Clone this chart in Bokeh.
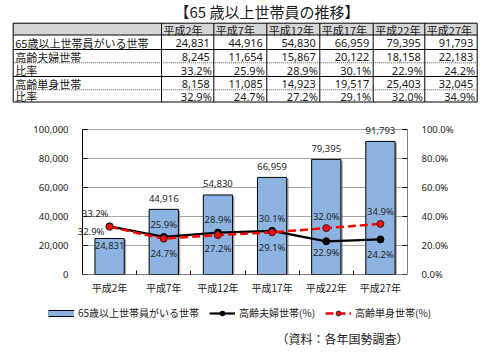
import numpy as np
from bokeh.plotting import figure
from bokeh.models import (Range1d, LinearAxis, FixedTicker,
                          Legend, LegendItem, NumeralTickFormatter, PrintfTickFormatter,
                          CustomJSTickFormatter)
from bokeh.embed import file_html
from bokeh.resources import INLINE
from bokeh.core.properties import value

# ---------------- data ----------------
chart_title = "【65 歳以上世帯員の推移】"
years = ["平成2年", "平成7年", "平成12年", "平成17年", "平成22年", "平成27年"]
households = [24831, 44916, 54830, 66959, 79395, 91793]
couple = [8245, 11654, 15867, 20122, 18158, 22183]
couple_ratio = [33.2, 25.9, 28.9, 30.1, 22.9, 24.2]
single = [8158, 11085, 14923, 19517, 25403, 32045]
single_ratio = [32.9, 24.7, 27.2, 29.1, 32.0, 34.9]
row_labels = ["65歳以上世帯員がいる世帯", "高齢夫婦世帯", "比率", "高齢単身世帯", "比率"]
legend_labels = ["65歳以上世帯員がいる世帯", "高齢夫婦世帯(%)", "高齢単身世帯(%)"]
source_note = "（資料：各年国勢調査）"
left_ticks = [0, 20000, 40000, 60000, 80000, 100000]
right_ticks = [0, 20, 40, 60, 80, 100]

# ---------------- styles / layout ----------------
JP = "Noto Sans CJK JP"
NUM = "Noto Sans"
TXT = "#1a1a1a"
BAR = "#8db3e2"
RED = "#ff0000"
col_edges = [12.7, 161, 213.3, 266.3, 319.3, 372.7, 424.3, 476.7]
row_edges = [22.7, 34.5, 49, 62.3, 76, 89.3, 101.5]
dotted_rows = [3, 5]

# ================= table figure =================
tf = figure(width=492, height=108, x_range=Range1d(0, 492), y_range=Range1d(108, 0),
            output_backend="svg", toolbar_location=None, min_border=0,
            x_axis_location=None, y_axis_location=None)
tf.grid.visible = False
tf.outline_line_color = None

tf.quad(left=[col_edges[0]], right=[col_edges[-1]], top=[row_edges[0]], bottom=[row_edges[1]],
        fill_color="#d6d6d6", line_color=None)
solid_y = [y for i, y in enumerate(row_edges) if i not in dotted_rows]
dot_y = [y for i, y in enumerate(row_edges) if i in dotted_rows]
tf.segment(x0=[col_edges[0]] * len(solid_y), x1=[col_edges[-1]] * len(solid_y),
           y0=solid_y, y1=solid_y, line_color="black", line_width=1)
tf.segment(x0=[col_edges[0]] * len(dot_y), x1=[col_edges[-1]] * len(dot_y),
           y0=dot_y, y1=dot_y, line_color="#555555", line_width=1, line_dash="1 1")
tf.segment(x0=col_edges, x1=col_edges, y0=[row_edges[0]] * len(col_edges),
           y1=[row_edges[-1]] * len(col_edges), line_color="black", line_width=1)

tf.text(x=[266.5], y=[11], text=[chart_title], text_font=value(JP), text_font_size="15px",
        text_align="center", text_baseline="middle", text_color=TXT)

row_mid = [(row_edges[i] + row_edges[i + 1]) / 2 for i in range(len(row_edges) - 1)]
tf.text(x=[col_edges[i + 1] + 2 for i in range(len(years))], y=[row_mid[0] + 0.5] * len(years),
        text=years, text_font=value(JP), text_font_size="11px", text_align="left",
        text_baseline="middle", text_color=TXT)
tf.text(x=[col_edges[0] + 2] * len(row_labels), y=[m + 0.5 for m in row_mid[1:]], text=row_labels,
        text_font=value(JP), text_font_size="11px", text_align="left",
        text_baseline="middle", text_color=TXT)
rows = [
    [f"{v:,}" for v in households],
    [f"{v:,}" for v in couple],
    [f"{v:.1f}%" for v in couple_ratio],
    [f"{v:,}" for v in single],
    [f"{v:.1f}%" for v in single_ratio],
]
vx, vy, vt = [], [], []
for r, vals in enumerate(rows):
    for c, t in enumerate(vals):
        vx.append(col_edges[c + 2] - (4 if not t.endswith("%") else 2))
        vy.append(row_mid[r + 1] + 0.5)
        vt.append(t)
tf.text(x=vx, y=vy, text=vt, text_font=value(NUM), text_font_size="11px", text_align="right",
        text_baseline="middle", text_color=TXT)

# ================= chart figure =================
n = len(years)
xc = np.arange(n) + 0.5
frame_px = 325.0
unit = frame_px / n
x_pad = 6 / unit
top_pad = 8 / 145.0
ymax = left_ticks[-1]
pmax = right_ticks[-1]

cf = figure(width=492, height=192, x_range=Range1d(-x_pad, n),
            y_range=Range1d(0, ymax * (1 + top_pad)),
            output_backend="svg", toolbar_location=None,
            min_border_left=76, min_border_right=85, min_border_top=13, min_border_bottom=26)
cf.outline_line_color = None
cf.xgrid.visible = False
cf.ygrid.visible = False
cf.extra_y_ranges = {"pct": Range1d(0, pmax * (1 + top_pad))}

ya = cf.yaxis[0]
ya.ticker = FixedTicker(ticks=left_ticks)
ya.formatter = NumeralTickFormatter(format="0,0")
ya.major_tick_line_color = None
ya.minor_tick_line_color = None
ya.axis_line_color = None
ya.major_label_standoff = 2
ya.major_label_text_font = NUM
ya.major_label_text_font_size = "9.5px"
ya.major_label_text_color = TXT

ra = LinearAxis(y_range_name="pct", ticker=FixedTicker(ticks=right_ticks),
                formatter=PrintfTickFormatter(format="%.1f%%"))
ra.major_tick_line_color = None
ra.minor_tick_line_color = None
ra.axis_line_color = None
ra.major_label_standoff = 8
ra.major_label_text_font = NUM
ra.major_label_text_font_size = "9.5px"
ra.major_label_text_color = TXT
cf.add_layout(ra, "right")

xa = cf.xaxis[0]
xa.ticker = FixedTicker(ticks=list(xc), minor_ticks=list(np.arange(1, n)))
xa.formatter = CustomJSTickFormatter(args=dict(labels=years),
                                     code="return labels[Math.floor(tick)] || '';")
xa.major_tick_line_color = None
xa.major_tick_in = 0
xa.major_tick_out = 0
xa.minor_tick_in = 4
xa.minor_tick_out = 0
xa.minor_tick_line_color = "black"
xa.axis_line_color = None
xa.major_label_standoff = 5
xa.major_label_text_font = JP
xa.major_label_text_font_size = "10px"
xa.major_label_text_color = TXT

gy = left_ticks[1:]
cf.segment(x0=[0] * len(gy), x1=[n] * len(gy), y0=gy, y1=gy, line_color="#a6a6a6", line_width=1)

bw = 0.54
cf.vbar(x=xc + 0.035, top=np.array(households) - 900, width=bw, fill_color="#7f7f7f",
        fill_alpha=0.7, line_color=None)
cf.vbar(x=xc, top=households, width=bw, fill_color=BAR, line_color="black", line_width=1)

cf.segment(x0=[0, n, 0], x1=[0, n, n], y0=[0, 0, 0], y1=[ymax, ymax, 0],
           line_color="black", line_width=1)
tl = 5 / unit
cf.segment(x0=[0] * len(left_ticks), x1=[tl] * len(left_ticks), y0=left_ticks, y1=left_ticks,
           line_color="black", line_width=1)
cf.segment(x0=[n - tl] * len(right_ticks), x1=[n] * len(right_ticks), y0=right_ticks,
           y1=right_ticks, y_range_name="pct", line_color="black", line_width=1)

line_styles = dict(
    couple=dict(line_color="black", line_width=2.2),
    single=dict(line_color=RED, line_width=2.5, line_dash="8 4"),
)
marker_styles = dict(
    couple=dict(marker="circle", size=7, fill_color="black", line_color="black"),
    single=dict(marker="circle", size=7, fill_color="#ee1111", line_color="#3a1a1a", line_width=1),
)
cf.line(xc, couple_ratio, y_range_name="pct", **line_styles["couple"])
cf.scatter(xc, couple_ratio, y_range_name="pct", **marker_styles["couple"])
cf.line(xc, single_ratio, y_range_name="pct", **line_styles["single"])
cf.scatter(xc, single_ratio, y_range_name="pct", **marker_styles["single"])

bar_dy = [7, -11, -11, -11, -11, -11]
cf.text(x=xc, y=households, text=[f"{v:,}" for v in households], y_offset=bar_dy,
        text_font=value(NUM), text_font_size="9.5px", text_align="center",
        text_baseline="middle", text_color="#262626")
couple_dx = [-14.5, 0, 0, 0, 0, 0]
couple_dy = [-13, -12, -13, -12, 11, 15]
cf.text(x=xc, y=couple_ratio, y_range_name="pct", text=[f"{v:.1f}%" for v in couple_ratio],
        x_offset=couple_dx, y_offset=couple_dy, text_font=value(NUM), text_font_size="9.5px",
        text_align="center", text_baseline="middle", text_color="#262626")
single_dx = [-18.5, 0, 0, 0, 0, 0]
single_dy = [5, 15, 13, 15, -12, -12]
cf.text(x=xc, y=single_ratio, y_range_name="pct", text=[f"{v:.1f}%" for v in single_ratio],
        x_offset=single_dx, y_offset=single_dy, text_font=value(NUM), text_font_size="9.5px",
        text_align="center", text_baseline="middle", text_color="#262626")

# ================= footer figure (legend + source) =================
ff = figure(width=492, height=52, x_range=Range1d(0, 492), y_range=Range1d(52, 0),
            output_backend="svg", toolbar_location=None, min_border=0,
            x_axis_location=None, y_axis_location=None)
ff.grid.visible = False
ff.outline_line_color = None

# legend proxies: one NaN point each, so nothing is drawn in the frame
nan = [float("nan")]
lg_out = ff.line(x=nan, y=nan, line_color="black", line_width=7)
lg_in = ff.line(x=nan, y=nan, line_color=BAR, line_width=5)
k1 = ff.line(x=nan, y=nan, **line_styles["couple"])
k2 = ff.scatter(x=nan, y=nan, **marker_styles["couple"])
r1 = ff.line(x=nan, y=nan, **line_styles["single"])
r2 = ff.scatter(x=nan, y=nan, **marker_styles["single"])
legend = Legend(items=[
    LegendItem(label=legend_labels[0], renderers=[lg_out, lg_in]),
    LegendItem(label=legend_labels[1], renderers=[k1, k2]),
    LegendItem(label=legend_labels[2], renderers=[r1, r2]),
], orientation="horizontal", location=(48, 32), padding=0, spacing=10,
    glyph_width=26, glyph_height=12, label_height=12, label_standoff=4,
    label_text_font=JP, label_text_font_size="10px", label_text_color=TXT,
    border_line_color=None, background_fill_alpha=0, margin=0)
ff.add_layout(legend, "center")

ff.text(x=[408], y=[38], text=[source_note], text_font=value(JP), text_font_size="12px",
        text_align="right", text_baseline="middle", text_color=TXT)

open("out.html", "w").write(file_html([tf, cf, ff], INLINE))
